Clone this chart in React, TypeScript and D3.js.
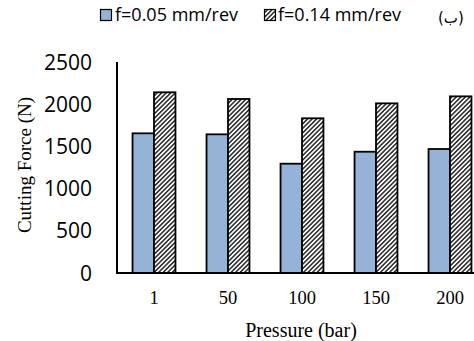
import * as d3 from "d3";

const categories = ["1", "50", "100", "150", "200"];
const seriesNames = ["f=0.05 mm/rev", "f=0.14 mm/rev"];
const lowFeed = [1655, 1643, 1295, 1437, 1469];
const highFeed = [2141, 2062, 1833, 2010, 2093];
const yTicks = [0, 500, 1000, 1500, 2000, 2500];

const BLUE = "#95b3d7";

export default function App() {
  const left = 117;
  const bottom = 273;
  const top = 62;

  const x0 = d3
    .scaleBand<string>()
    .domain(categories)
    .range([left, left + 370])
    .paddingInner(0.42)
    .paddingOuter(0.21);
  const x1 = d3
    .scaleBand<number>()
    .domain([0, 1])
    .range([0, x0.bandwidth()]);
  const y = d3.scaleLinear().domain([0, 2500]).range([bottom, top]);

  const series = [lowFeed, highFeed];

  return (
    <svg
      width={474}
      height={341}
      style={{ position: "absolute", left: 0, top: 0, background: "#fff" }}
    >
      <defs>
        <pattern
          id="hatch"
          patternUnits="userSpaceOnUse"
          width={3.2}
          height={3.2}
          patternTransform="rotate(45)"
        >
          <rect width={3.2} height={3.2} fill="#fff" />
          <line x1={0.8} y1={0} x2={0.8} y2={3.2} stroke="#333" strokeWidth={1.6} />
        </pattern>
      </defs>

      {/* bars */}
      {categories.map((c, i) => (
        <g key={c}>
          {series.map((s, j) => (
            <rect
              key={j}
              x={(x0(c) ?? 0) + (x1(j) ?? 0)}
              y={y(s[i])}
              width={x1.bandwidth()}
              height={bottom - y(s[i])}
              fill={j === 0 ? BLUE : "url(#hatch)"}
              stroke="#000"
              strokeWidth={1.8}
            />
          ))}
        </g>
      ))}

      {/* axes */}
      <line x1={left} y1={top} x2={left} y2={bottom} stroke="#000" strokeWidth={2} />
      <line x1={left - 1} y1={bottom} x2={474} y2={bottom} stroke="#000" strokeWidth={2} />

      {yTicks.map((t) => (
        <text
          key={t}
          x={92}
          y={y(t)}
          dy="0.36em"
          textAnchor="end"
          fontFamily="Open Sans"
          fontSize={21}
          fill="#000"
        >
          {t}
        </text>
      ))}

      {categories.map((c) => (
        <text
          key={c}
          x={(x0(c) ?? 0) + x0.bandwidth() / 2}
          y={304}
          textAnchor="middle"
          fontFamily="Liberation Serif"
          fontSize={18.5}
          fill="#000"
        >
          {c}
        </text>
      ))}

      <text
        x={301}
        y={337}
        textAnchor="middle"
        fontFamily="Liberation Serif"
        fontSize={20}
        fill="#000"
      >
        Pressure (bar)
      </text>
      <text
        transform="translate(31,165) rotate(-90)"
        textAnchor="middle"
        fontFamily="Liberation Serif"
        fontSize={19}
        fill="#000"
      >
        Cutting Force (N)
      </text>

      {/* legend */}
      <g fontFamily="Open Sans" fontSize={18} fill="#000">
        <rect x={100.5} y={9.5} width={11} height={11} fill={BLUE} stroke="#000" strokeWidth={1.2} />
        <text x={115} y={21}>{seriesNames[0]}</text>
        <rect x={264.5} y={9.5} width={11} height={11} fill="url(#hatch)" stroke="#000" strokeWidth={1.2} />
        <text x={278} y={21}>{seriesNames[1]}</text>
      </g>
      <text x={438} y={23} fontFamily="DejaVu Sans" fontSize={15} fill="#000">
        (ب)
      </text>
    </svg>
  );
}
